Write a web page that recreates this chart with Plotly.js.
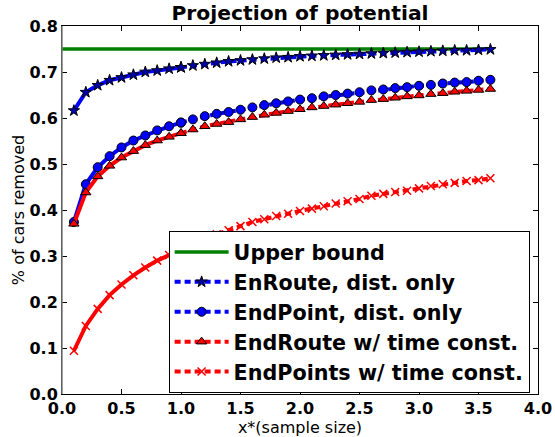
<!DOCTYPE html>
<html>
<head>
<meta charset="utf-8">
<script src="https://cdn.plot.ly/plotly-3.0.1.min.js"></script>
<style>html,body{margin:0;padding:0;background:#fff;}#chart{width:555px;height:437px;}</style>
</head>
<body>
<div id="chart"></div>
<script>
const sampleSize = [0.1,0.2,0.3,0.4,0.5,0.6,0.7,0.8,0.9,1.0,1.1,1.2,1.3,1.4,1.5,1.6,1.7,1.8,1.9,2.0,2.1,2.2,2.3,2.4,2.5,2.6,2.7,2.8,2.9,3.0,3.1,3.2,3.3,3.4,3.5,3.6];
const upperX = [0, 3.6];
const upperBound = [0.75, 0.75];
const enRouteDist = [0.616,0.656,0.671,0.682,0.688,0.694,0.700,0.703,0.707,0.710,0.714,0.717,0.720,0.723,0.725,0.727,0.729,0.731,0.732,0.734,0.735,0.736,0.737,0.738,0.739,0.740,0.741,0.742,0.743,0.744,0.745,0.746,0.747,0.747,0.748,0.749];
const endPointDist = [0.374,0.456,0.493,0.517,0.536,0.551,0.562,0.573,0.582,0.590,0.597,0.604,0.609,0.613,0.618,0.623,0.628,0.632,0.636,0.640,0.643,0.647,0.650,0.653,0.656,0.660,0.662,0.665,0.667,0.670,0.672,0.675,0.677,0.678,0.681,0.683];
const endRouteTime = [0.370,0.438,0.473,0.496,0.514,0.528,0.541,0.551,0.559,0.567,0.575,0.582,0.587,0.591,0.597,0.602,0.607,0.611,0.615,0.619,0.623,0.626,0.629,0.632,0.635,0.639,0.641,0.644,0.647,0.649,0.652,0.654,0.657,0.659,0.661,0.663];
const endPointsTime = [0.094,0.148,0.185,0.215,0.238,0.258,0.275,0.290,0.302,0.315,0.326,0.337,0.347,0.356,0.365,0.374,0.380,0.387,0.392,0.398,0.403,0.408,0.414,0.419,0.424,0.431,0.435,0.439,0.442,0.447,0.452,0.456,0.459,0.463,0.465,0.469];
const xTicks = [0,0.5,1.0,1.5,2.0,2.5,3.0,3.5,4.0];
const yTicks = [0,0.1,0.2,0.3,0.4,0.5,0.6,0.7,0.8];

const FONT = 'DejaVu Sans, sans-serif';
const split = 9; // solid up to x=1.0, dashed after

const series = [
  {name:'EnRoute, dist. only', y: enRouteDist, color:'#0000ff', marker:{symbol:'star', size:8.5, color:'#0000aa', line:{color:'#000', width:1}}},
  {name:'EndPoint, dist. only', y: endPointDist, color:'#0000ff', marker:{symbol:'circle', size:9, color:'#0000ff', line:{color:'#000', width:1}}},
  {name:'EndRoute w/ time const.', y: endRouteTime, color:'#ff0000', marker:{symbol:'triangle-up', size:9, color:'#ff0000', line:{color:'#000', width:1}}},
  {name:'EndPoints w/ time const.', y: endPointsTime, color:'#ff0000', marker:{symbol:'x-thin', size:8, color:'#ff0000', line:{color:'#ff0000', width:1.5}}}
];

const traces = [{
  x: upperX, y: upperBound, mode:'lines', name:'Upper bound',
  line:{color:'#008000', width:3.5}
}];
series.forEach(s => {
  traces.push({
    x: sampleSize.slice(0, split+1), y: s.y.slice(0, split+1), mode:'lines+markers',
    name: s.name, showlegend:false, legendgroup:s.name,
    line:{color:s.color, width:4}, marker:s.marker
  });
  traces.push({
    x: sampleSize.slice(split), y: s.y.slice(split), mode:'lines+markers',
    name: s.name, legendgroup:s.name,
    line:{color:s.color, width:4, dash:'6px,4px'}, marker:s.marker
  });
});

const layout = {
  width:555, height:437,
  margin:{l:62, r:17, t:26, b:43, pad:0},
  paper_bgcolor:'#fff', plot_bgcolor:'#fff',
  font:{family:FONT, color:'#000'},
  title:{text:'Projection of potential', x:0.5, xref:'paper', xanchor:'center', y:1-13/437, yref:'container', yanchor:'middle',
         font:{family:FONT, size:20.3, weight:'bold', color:'#000'}},
  xaxis:{range:[0,4], tickvals:xTicks, ticktext:xTicks.map(v=>v.toFixed(1)),
         ticks:'inside', ticklen:5, tickcolor:'#000', showline:true, linecolor:'#000', linewidth:1, mirror:'ticks',
         showgrid:false, zeroline:false, tickfont:{family:FONT, size:16, weight:'bold'},
         title:{text:'x*(sample size)', font:{family:FONT, size:16}, standoff:4}},
  yaxis:{range:[0,0.8], tickvals:yTicks, ticktext:yTicks.map(v=>v.toFixed(1)),
         ticks:'inside', ticklen:5, tickcolor:'#000', showline:true, linecolor:'#000', linewidth:1, mirror:'ticks',
         showgrid:false, zeroline:false, tickfont:{family:FONT, size:16, weight:'bold'},
         title:{text:'% of cars removed', font:{family:FONT, size:16}, standoff:0}},
  legend:{x:0.224, y:0.443, xanchor:'left', yanchor:'top', bgcolor:'#fff', bordercolor:'#000', borderwidth:1,
          font:{family:FONT, size:20.7, weight:'bold', color:'#000'}, itemwidth:54, tracegroupgap:0},
  shapes:[{type:'line', xref:'paper', yref:'paper', x0:0, x1:0, y0:0, y1:1, line:{color:'#808080', width:1.5}, layer:'above'}]
};

Plotly.newPlot('chart', traces, layout, {displayModeBar:false, staticPlot:true});
</script>
</body>
</html>
